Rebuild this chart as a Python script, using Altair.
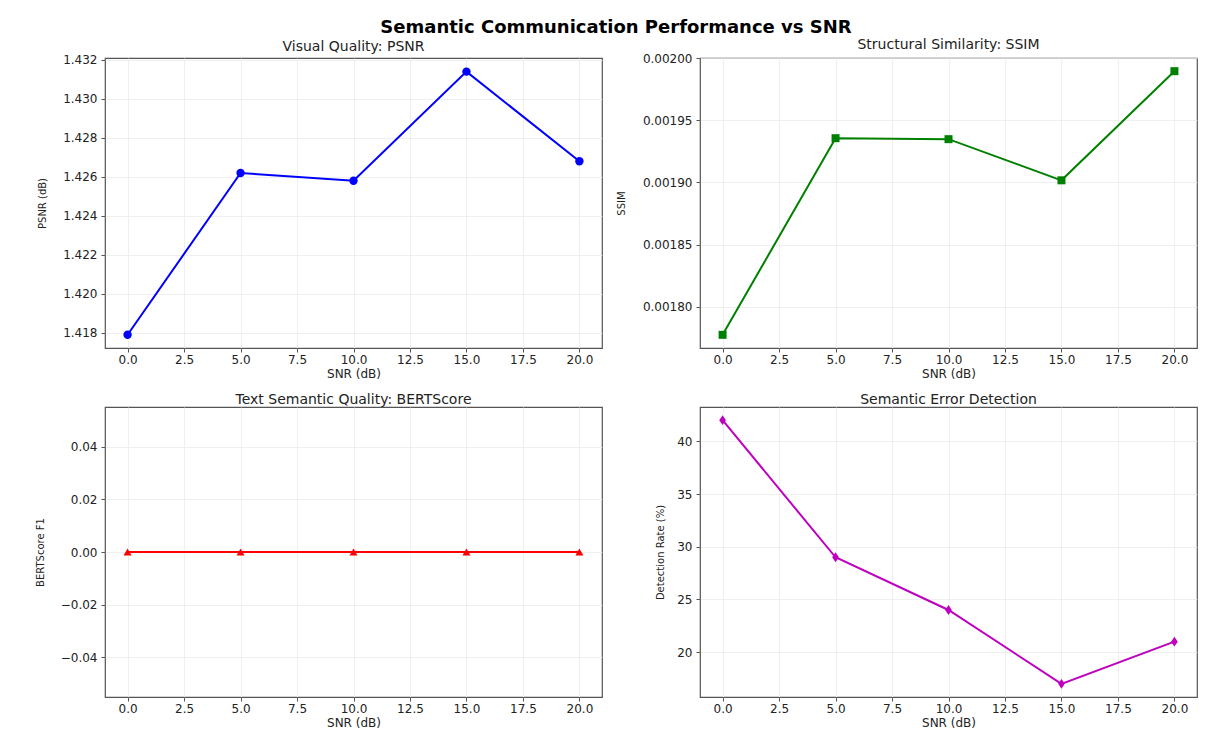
import altair as alt
import pandas as pd

# ---- data ----
snr = [0, 5, 10, 15, 20]
psnr = [1.4179, 1.4262, 1.4258, 1.4314, 1.4268]
ssim = [0.0017774, 0.0019356, 0.0019348, 0.0019017, 0.0019895]
bertscore = [0.0, 0.0, 0.0, 0.0, 0.0]
detection = [42, 29, 24, 17, 21]

x_ticks = [0, 2.5, 5, 7.5, 10, 12.5, 15, 17.5, 20]
psnr_ticks = [1.418, 1.420, 1.422, 1.424, 1.426, 1.428, 1.430, 1.432]
ssim_ticks = [0.00180, 0.00185, 0.00190, 0.00195, 0.00200]
bert_ticks = [-0.04, -0.02, 0.0, 0.02, 0.04]
det_ticks = [20, 25, 30, 35, 40]

FONT = "DejaVu Sans"
W, H = 497, 290


def panel(values, title, ytitle, color, shape, ydomain, yticks, yfmt,
          extent, tpad, size):
    df = pd.DataFrame({"snr": snr, "v": values})
    base = alt.Chart(df).encode(
        x=alt.X("snr:Q",
                scale=alt.Scale(domain=[-1, 21], nice=False, zero=False),
                axis=alt.Axis(values=x_ticks, format=".1f", title="SNR (dB)",
                              labelPadding=2, minExtent=17, maxExtent=17,
                              titlePadding=3)),
        y=alt.Y("v:Q",
                scale=alt.Scale(domain=ydomain, nice=False, zero=False),
                axis=alt.Axis(values=yticks, format=yfmt, title=ytitle,
                              minExtent=extent, maxExtent=extent,
                              titlePadding=tpad)),
    )
    line = base.mark_line(color=color, strokeWidth=2)
    pts = base.mark_point(shape=shape, filled=True, color=color, size=size,
                          opacity=1)
    return alt.layer(line, pts).properties(
        width=W, height=H,
        title=alt.TitleParams(title, font=FONT, fontSize=14,
                              fontWeight="normal", color="#222", offset=0),
    )


p1 = panel(psnr, "Visual Quality: PSNR", "PSNR (dB)", "#0000ff", "circle",
           [1.41722, 1.43210], psnr_ticks, ".3f", 45, 13, 70)
p2 = panel(ssim, "Structural Similarity: SSIM", "SSIM", "#008000", "square",
           [0.0017668, 0.0020001], ssim_ticks, ".5f", 60, 14, 64)
p3 = panel(bertscore, "Text Semantic Quality: BERTScore", "BERTScore F1",
           "#ff0000", "triangle-up", [-0.055, 0.055], bert_ticks, ".2f",
           45, 15, 64)
p4 = panel(detection, "Semantic Error Detection", "Detection Rate (%)",
           "#bf00bf", "M0,-1.1L0.75,0L0,1.1L-0.75,0Z", [15.75, 43.25],
           det_ticks, "d", 25, 10, 80)

chart = alt.concat(
    p1, p2, p3, p4, columns=2, bounds="flush",
    spacing={"column": 98, "row": 59},
).properties(
    title=alt.TitleParams("Semantic Communication Performance vs SNR",
                          font=FONT, fontSize=18, fontWeight="bold",
                          color="#000", anchor="middle", offset=1),
    padding={"left": 26, "top": 10, "right": 5, "bottom": 5},
).configure_view(
    stroke="#555", strokeWidth=1.2
).configure_axis(
    labelFont=FONT, labelFontSize=12, labelColor="#222",
    titleFont=FONT, titleFontWeight="normal", titleColor="#222",
    grid=True, gridColor="#ebebeb", gridWidth=0.8,
    domain=False, tickColor="#555", tickSize=4, tickWidth=1,
    labelPadding=4,
).configure_axisX(
    titleFontSize=12
).configure_axisY(
    titleFontSize=10
)

chart.save("out.html", embed_options={"renderer": "svg", "actions": False})
